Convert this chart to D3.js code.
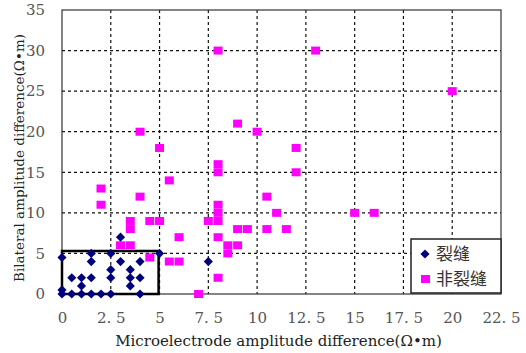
<!DOCTYPE html>
<html>
<head>
<meta charset="utf-8">
<script src="https://cdn.jsdelivr.net/npm/d3@7"></script>
<style>
  body { margin: 0; background: #fff; }
  svg { display: block; }
  .serif { font-family: "DejaVu Serif", serif; }
</style>
</head>
<body>
<div id="chart"></div>
<script>
// crack points (裂缝)
var crackX = [0, 0, 0, 0.5, 1, 1.5, 2, 2.5, 4, 0.5, 1, 1.5, 1, 1.5, 1.5, 2.5, 2.5, 2.5, 3, 3, 3.5, 3.5, 3.5, 4, 4, 5, 7.5];
var crackY = [4.5, 0.5, 0, 0, 0, 0, 0, 0, 0, 2, 2, 2, 1, 5, 4, 5, 3, 2, 7, 4, 3, 2, 1, 4, 2, 5, 4];

// non-crack points (非裂缝)
var nonX = [8, 13, 20, 9, 10, 4, 5, 12, 12, 8, 8, 5.5, 2, 2, 4, 10.5, 11, 15, 16, 8, 8, 8, 7.5, 4.5, 5, 3.5, 3.5, 3, 3.5, 6, 8, 9, 9.5, 10.5, 11.5, 8.5, 9, 8.5, 5.5, 6, 4.5, 8, 7];
var nonY = [30, 30, 25, 21, 20, 20, 18, 18, 15, 16, 15, 14, 13, 11, 12, 12, 10, 10, 10, 11, 10, 9, 9, 9, 9, 9, 8, 6, 6, 7, 7, 8, 8, 8, 8, 6, 6, 5, 4, 4, 4.5, 2, 0];

var xTicks = [0, 2.5, 5, 7.5, 10, 12.5, 15, 17.5, 20, 22.5];
var yTicks = [0, 5, 10, 15, 20, 25, 30, 35];
var seriesNames = ['裂缝', '非裂缝'];

var W = 526, H = 353;
var margin = { left: 62, right: 25, top: 10, bottom: 59 };
var width = W - margin.left - margin.right;
var height = H - margin.top - margin.bottom;

var svg = d3.select('#chart').append('svg')
    .attr('width', W)
    .attr('height', H);

var g = svg.append('g')
    .attr('transform', 'translate(' + margin.left + ',' + margin.top + ')');

var x = d3.scaleLinear().domain([0, 22.5]).range([0, width]);
var y = d3.scaleLinear().domain([0, 35]).range([height, 0]);

// dashed grid
g.selectAll('.vgrid')
    .data(xTicks.filter(function(d) { return d > 0 && d < 22.5; }))
    .enter().append('line')
    .attr('x1', function(d) { return x(d); })
    .attr('x2', function(d) { return x(d); })
    .attr('y1', 0).attr('y2', height)
    .attr('stroke', '#111').attr('stroke-width', 1.2)
    .attr('stroke-dasharray', '3,3');

g.selectAll('.hgrid')
    .data(yTicks.filter(function(d) { return d > 0 && d < 35; }))
    .enter().append('line')
    .attr('x1', 0).attr('x2', width)
    .attr('y1', function(d) { return y(d); })
    .attr('y2', function(d) { return y(d); })
    .attr('stroke', '#111').attr('stroke-width', 1.2)
    .attr('stroke-dasharray', '3,3');

// frame
g.append('rect')
    .attr('width', width).attr('height', height)
    .attr('fill', 'none')
    .attr('stroke', '#333').attr('stroke-width', 1.2);

// axes (labels only)
var xAxis = g.append('g')
    .attr('transform', 'translate(0,' + height + ')')
    .call(d3.axisBottom(x).tickValues(xTicks).tickSize(0).tickPadding(18)
        .tickFormat(function(d) { return String(d).replace('.', '. '); }));
var yAxis = g.append('g')
    .call(d3.axisLeft(y).tickValues(yTicks).tickSize(0).tickPadding(17));
[xAxis, yAxis].forEach(function(a) {
    a.attr('font-family', null).attr('font-size', null);
    a.select('.domain').remove();
    a.selectAll('text')
        .attr('class', 'serif')
        .attr('fill', '#555')
        .style('font-size', '15px');
});

// crack region box
g.append('rect')
    .attr('x', x(0)).attr('y', y(5.3))
    .attr('width', x(4.95) - x(0))
    .attr('height', y(0) - y(5.3))
    .attr('fill', 'none')
    .attr('stroke', '#000').attr('stroke-width', 2.5);

// non-crack squares
var nonData = nonX.map(function(d, i) { return [d, nonY[i]]; });
g.selectAll('.sq')
    .data(nonData)
    .enter().append('rect')
    .attr('x', function(d) { return x(d[0]) - 4.5; })
    .attr('y', function(d) { return y(d[1]) - 4; })
    .attr('width', 9).attr('height', 8)
    .attr('fill', '#ff00ff');

// crack diamonds
var crackData = crackX.map(function(d, i) { return [d, crackY[i]]; });
var diamond = d3.symbol().type(d3.symbolSquare).size(42);
g.selectAll('.dm')
    .data(crackData)
    .enter().append('path')
    .attr('d', diamond)
    .attr('transform', function(d) { return 'translate(' + x(d[0]) + ',' + y(d[1]) + ') rotate(45)'; })
    .attr('fill', '#00007f');

// legend
var lg = svg.append('g').attr('transform', 'translate(411,239)');
lg.append('rect')
    .attr('width', 90).attr('height', 54)
    .attr('fill', '#fff')
    .attr('stroke', '#222').attr('stroke-width', 1.5);
lg.append('path')
    .attr('d', diamond)
    .attr('transform', 'translate(14,15) rotate(45)')
    .attr('fill', '#00007f');
lg.append('rect')
    .attr('x', 10).attr('y', 36).attr('width', 9).attr('height', 8)
    .attr('fill', '#ff00ff');
lg.selectAll('.lt')
    .data(seriesNames)
    .enter().append('text')
    .attr('x', 25)
    .attr('y', function(d, i) { return 21 + i * 25; })
    .attr('fill', '#333')
    .style('font-family', '"Noto Sans CJK SC", sans-serif')
    .style('font-size', '17px')
    .text(function(d) { return d; });

// axis titles
svg.append('text')
    .attr('class', 'serif')
    .attr('x', margin.left + width / 2 - 3)
    .attr('y', 346)
    .attr('text-anchor', 'middle')
    .attr('fill', '#222')
    .style('font-size', '15px')
    .text('Microelectrode amplitude difference(Ω•m)');

svg.append('text')
    .attr('class', 'serif')
    .attr('transform', 'translate(24,158) rotate(-90)')
    .attr('text-anchor', 'middle')
    .attr('fill', '#222')
    .style('font-size', '13.5px')
    .text('Bilateral amplitude difference(Ω•m)');
</script>
</body>
</html>
